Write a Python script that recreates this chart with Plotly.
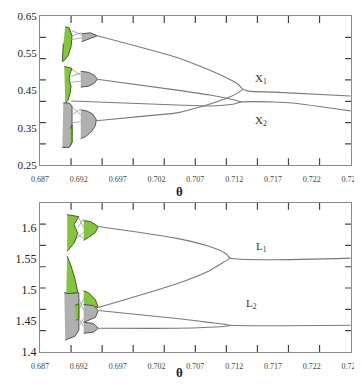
import plotly.graph_objects as go

# ---------------- axis ticks ----------------
x_ticks = [0.687, 0.692, 0.697, 0.702, 0.707, 0.712, 0.717, 0.722, 0.727]
x_tick_text = ["0.687", "0.692", "0.697", "0.702", "0.707", "0.712", "0.717", "0.722", "0.727"]
x_minor = [0.691, 0.695, 0.699, 0.703, 0.707, 0.711, 0.715, 0.719, 0.723]

y1_ticks = [0.25, 0.35, 0.45, 0.55, 0.65]
y1_tick_text = ["0.25", "0.35", "0.45", "0.55", "0.65"]
y1_minor = [0.3071, 0.3643, 0.4214, 0.4786, 0.5357, 0.5929]

y2_ticks = [1.40, 1.45, 1.50, 1.55, 1.60]
y2_tick_text = ["1.4", "1.45", "1.5", "1.55", "1.6"]
y2_minor = [1.4343, 1.4686, 1.5029, 1.5371, 1.5714, 1.6057]

# ---------------- top panel: X1 / X2 ----------------
x1_theta = [0.694375, 0.704625, 0.708875, 0.711375, 0.7125, 0.713125, 0.713875, 0.717125, 0.727]
x1_val = [0.5970, 0.5387, 0.5043, 0.4805, 0.4672, 0.4540, 0.4487, 0.4460, 0.4354]

d_theta = [0.69425, 0.70075, 0.704625, 0.708875, 0.711125, 0.712625, 0.713125]
d_val = [0.3692, 0.3824, 0.3904, 0.4142, 0.4301, 0.4460, 0.4540]

b_theta = [0.694375, 0.704625, 0.708875, 0.7115, 0.713]
b_val = [0.4805, 0.4513, 0.4381, 0.4275, 0.4195]

x2_theta = [0.691, 0.704625, 0.708875, 0.712, 0.713, 0.717125, 0.7195, 0.727]
x2_val = [0.4222, 0.4116, 0.4089, 0.4142, 0.4195, 0.4195, 0.4169, 0.3957]

# filled regions (top)
g1_theta = [0.69025, 0.69075, 0.691125, 0.691, 0.690625, 0.690125, 0.689875, 0.690]
g1_val = [0.6209, 0.6182, 0.5970, 0.5679, 0.5440, 0.5308, 0.5281, 0.5758]
g2_theta = [0.690125, 0.691125, 0.690875, 0.69075, 0.691, 0.690875, 0.690625, 0.69025]
g2_val = [0.5149, 0.5096, 0.4964, 0.4778, 0.4619, 0.4434, 0.4248, 0.4169]
g3_theta = [0.690875, 0.691125, 0.691125, 0.690875]
g3_val = [0.3480, 0.3586, 0.3109, 0.3003]

s1_theta = [0.690, 0.69075, 0.691125, 0.691125, 0.69075, 0.689875]
s1_val = [0.4169, 0.4169, 0.4089, 0.3109, 0.2977, 0.2977]
s2_theta = [0.692375, 0.6935, 0.694375, 0.6935, 0.692375]
s2_val = [0.6023, 0.6050, 0.5970, 0.5891, 0.5811]
s3_theta = [0.69225, 0.69325, 0.694, 0.694375, 0.694, 0.69325, 0.69225]
s3_val = [0.5017, 0.4990, 0.4911, 0.4805, 0.4699, 0.4619, 0.4593]
s4_theta = [0.69225, 0.693, 0.69375, 0.69425, 0.694125, 0.693625, 0.692875, 0.69225]
s4_val = [0.3983, 0.3957, 0.3877, 0.3719, 0.3560, 0.3401, 0.3268, 0.3215]

c_top_theta = [0.691125, 0.692375, None, 0.691125, 0.692375, None, 0.691, 0.692375, None,
               0.691125, 0.69225, None, 0.691, 0.69225, None, 0.690875, 0.69225, None,
               0.691125, 0.69225, None, 0.691125, 0.69225, None, 0.691125, 0.69225]
c_top_val = [0.6103, 0.5997, None, 0.5970, 0.6050, None, 0.5864, 0.5917, None,
             0.5070, 0.4911, None, 0.4884, 0.4964, None, 0.4725, 0.4751, None,
             0.4063, 0.3851, None, 0.3851, 0.4010, None, 0.3639, 0.3666]

# ---------------- bottom panel: L1 / L2 ----------------
l1u_theta = [0.6945, 0.704625, 0.70875, 0.710875, 0.7115, 0.727]
l1u_val = [1.6018, 1.5827, 1.5700, 1.5589, 1.5510, 1.5510]
l1l_theta = [0.6945, 0.704625, 0.70875, 0.710875, 0.7115]
l1l_val = [1.4715, 1.5097, 1.5303, 1.5462, 1.5510]
l2u_theta = [0.6945, 0.704625, 0.70875, 0.710875, 0.7115, 0.727]
l2u_val = [1.4667, 1.4540, 1.4477, 1.4445, 1.4429, 1.4429]
l2l_theta = [0.6945, 0.704625, 0.70875, 0.710875, 0.7115]
l2l_val = [1.4381, 1.4381, 1.4397, 1.4413, 1.4429]

bg1_theta = [0.6905, 0.692, 0.691375, 0.691875, 0.691375, 0.6905]
bg1_val = [1.6209, 1.6177, 1.6050, 1.5907, 1.5748, 1.5621]
bg2_theta = [0.692625, 0.6935, 0.6945, 0.694125, 0.69325, 0.692625]
bg2_val = [1.6113, 1.6098, 1.6018, 1.5923, 1.5843, 1.5796]
bg3_theta = [0.6905, 0.691, 0.6915, 0.691875, 0.690375]
bg3_val = [1.5541, 1.5383, 1.5176, 1.4953, 1.4938]
bg4_theta = [0.692625, 0.69325, 0.694125, 0.6945, 0.692625]
bg4_val = [1.4985, 1.4953, 1.4842, 1.4715, 1.4763]
bg5_theta = [0.6915, 0.692, 0.692, 0.691625]
bg5_val = [1.4747, 1.4779, 1.4540, 1.4508]

bs1_theta = [0.690125, 0.692, 0.692, 0.6915, 0.69025]
bs1_val = [1.4953, 1.4953, 1.4350, 1.4254, 1.4191]
bs2_theta = [0.692625, 0.693875, 0.6945, 0.694125, 0.692625]
bs2_val = [1.4763, 1.4747, 1.4667, 1.4556, 1.4477]
bs3_theta = [0.692625, 0.693875, 0.6945, 0.693875, 0.692625]
bs3_val = [1.4477, 1.4461, 1.4381, 1.4318, 1.4302]

c_bot_theta = [0.692, 0.692625, None, 0.691875, 0.692625, None, 0.691625, 0.692625, None,
               0.691625, 0.692625, None, 0.692, 0.692625, None, 0.692, 0.692625, None,
               0.692, 0.692625, None, 0.692, 0.692625]
c_bot_val = [1.6161, 1.6002, None, 1.6002, 1.6145, None, 1.5907, 1.5827, None,
             1.5812, 1.5923, None, 1.4858, 1.4667, None, 1.4667, 1.4858, None,
             1.4540, 1.4413, None, 1.4413, 1.4540]

GREEN = "#86c440"
GREEN_EDGE = "#3d5e22"
GRAY = "#b0b0b0"
GRAY_EDGE = "#555555"
CURVE = "#7a7a7a"
FONT = "Liberation Serif"
X_RANGE = [0.687, 0.72705]
Y1_RANGE = [0.25, 0.65]
Y2_RANGE = [1.40, 1.64]
TOP_DOM = [0.5559, 1.0]
BOT_DOM = [0.0, 0.4441]

fig = go.Figure()


def curve(x, y, xa, ya):
    fig.add_trace(go.Scatter(x=x, y=y, mode="lines", xaxis=xa, yaxis=ya,
                             line=dict(color=CURVE, width=1.1, shape="spline", smoothing=0.6),
                             hoverinfo="skip", showlegend=False))


def patch(x, y, fill, edge, xa, ya):
    fig.add_trace(go.Scatter(x=x, y=y, mode="lines", fill="toself", fillcolor=fill,
                             xaxis=xa, yaxis=ya, line=dict(color=edge, width=1),
                             hoverinfo="skip", showlegend=False))


def connectors(x, y, xa, ya):
    fig.add_trace(go.Scatter(x=x, y=y, mode="lines", xaxis=xa, yaxis=ya,
                             line=dict(color="#9a9a9a", width=0.8),
                             hoverinfo="skip", showlegend=False))


# top panel
patch(s1_theta, s1_val, GRAY, GRAY_EDGE, "x", "y")
patch(g1_theta, g1_val, GREEN, GREEN_EDGE, "x", "y")
patch(g2_theta, g2_val, GREEN, GREEN_EDGE, "x", "y")
patch(g3_theta, g3_val, GREEN, GREEN_EDGE, "x", "y")
patch(s2_theta, s2_val, GRAY, GRAY_EDGE, "x", "y")
patch(s3_theta, s3_val, GRAY, GRAY_EDGE, "x", "y")
patch(s4_theta, s4_val, GRAY, GRAY_EDGE, "x", "y")
connectors(c_top_theta, c_top_val, "x", "y")
curve(x1_theta, x1_val, "x", "y")
curve(d_theta, d_val, "x", "y")
curve(b_theta, b_val, "x", "y")
curve(x2_theta, x2_val, "x", "y")

# bottom panel
patch(bs1_theta, bs1_val, GRAY, GRAY_EDGE, "x2", "y2")
patch(bg1_theta, bg1_val, GREEN, GREEN_EDGE, "x2", "y2")
patch(bg2_theta, bg2_val, GREEN, GREEN_EDGE, "x2", "y2")
patch(bg3_theta, bg3_val, GREEN, GREEN_EDGE, "x2", "y2")
patch(bg4_theta, bg4_val, GREEN, GREEN_EDGE, "x2", "y2")
patch(bg5_theta, bg5_val, GREEN, GREEN_EDGE, "x2", "y2")
patch(bs2_theta, bs2_val, GRAY, GRAY_EDGE, "x2", "y2")
patch(bs3_theta, bs3_val, GRAY, GRAY_EDGE, "x2", "y2")
connectors(c_bot_theta, c_bot_val, "x2", "y2")
curve(l1u_theta, l1u_val, "x2", "y2")
curve(l1l_theta, l1l_val, "x2", "y2")
curve(l2u_theta, l2u_val, "x2", "y2")
curve(l2l_theta, l2l_val, "x2", "y2")

AX_LINE = "#8a8a8a"
TICK_COLOR = "#444444"

# inward tick marks on all four sides, built from the tick lists and axis ranges
PLOT_W, PANEL_H = 320.0, 151.0
for xa, ya, yr, minor in (("x", "y", Y1_RANGE, y1_minor), ("x2", "y2", Y2_RANGE, y2_minor)):
    dy = 7 * (yr[1] - yr[0]) / PANEL_H
    dx = 6 * (X_RANGE[1] - X_RANGE[0]) / PLOT_W
    tx, ty = [], []
    for v in x_minor:
        tx += [v, v, None, v, v, None]
        ty += [yr[0], yr[0] + dy, None, yr[1] - dy, yr[1], None]
    for v in minor:
        tx += [X_RANGE[0], X_RANGE[0] + dx, None, X_RANGE[1] - dx, X_RANGE[1], None]
        ty += [v, v, None, v, v, None]
    fig.add_trace(go.Scatter(x=tx, y=ty, mode="lines", xaxis=xa, yaxis=ya,
                             line=dict(color=TICK_COLOR, width=1.2),
                             hoverinfo="skip", showlegend=False))


def x_axis(anchor):
    return dict(range=X_RANGE, domain=[0, 1], anchor=anchor,
                tickmode="array", tickvals=x_ticks, ticktext=x_tick_text,
                ticks="", ticklabelstandoff=6, ticklabeloverflow="allow",
                showline=True, linecolor=AX_LINE, linewidth=1, mirror=True,
                showgrid=False, zeroline=False,
                tickfont=dict(family=FONT, size=8, color="#444444"))


def y_axis(anchor, rng, dom, vals, text, size):
    return dict(range=rng, domain=dom, anchor=anchor,
                tickmode="array", tickvals=vals, ticktext=text,
                ticks="", ticklabeloverflow="allow",
                showline=True, linecolor=AX_LINE, linewidth=1, mirror=True,
                showgrid=False, zeroline=False,
                tickfont=dict(family=FONT, size=size, color="#222222"))


fig.update_layout(
    width=354, height=379,
    margin=dict(l=32, r=2, t=4, b=35),
    paper_bgcolor="white", plot_bgcolor="white",
    showlegend=False,
    xaxis=x_axis("y"),
    yaxis=y_axis("x", Y1_RANGE, TOP_DOM, y1_ticks, y1_tick_text, 11),
    xaxis2=x_axis("y2"),
    yaxis2=y_axis("x2", Y2_RANGE, BOT_DOM, y2_ticks, y2_tick_text, 12),
    annotations=[
        dict(x=0.7155, y=0.4805, xref="x", yref="y", text="X<sub>1</sub>", showarrow=False,
             font=dict(family=FONT, size=11, color="#333")),
        dict(x=0.7155, y=0.3692, xref="x", yref="y", text="X<sub>2</sub>", showarrow=False,
             font=dict(family=FONT, size=11, color="#333")),
        dict(x=0.7155, y=1.5684, xref="x2", yref="y2", text="L<sub>1</sub>", showarrow=False,
             font=dict(family=FONT, size=11, color="#333")),
        dict(x=0.71425, y=1.4779, xref="x2", yref="y2", text="L<sub>2</sub>", showarrow=False,
             font=dict(family=FONT, size=11, color="#333")),
        dict(x=0.447, y=0.479, xref="paper", yref="paper", text="<b>θ</b>", showarrow=False,
             font=dict(family=FONT, size=13, color="#222")),
        dict(x=0.447, y=-0.088, xref="paper", yref="paper", text="<b>θ</b>", showarrow=False,
             font=dict(family=FONT, size=13, color="#222")),
    ],
)

fig.write_html("out.html")
